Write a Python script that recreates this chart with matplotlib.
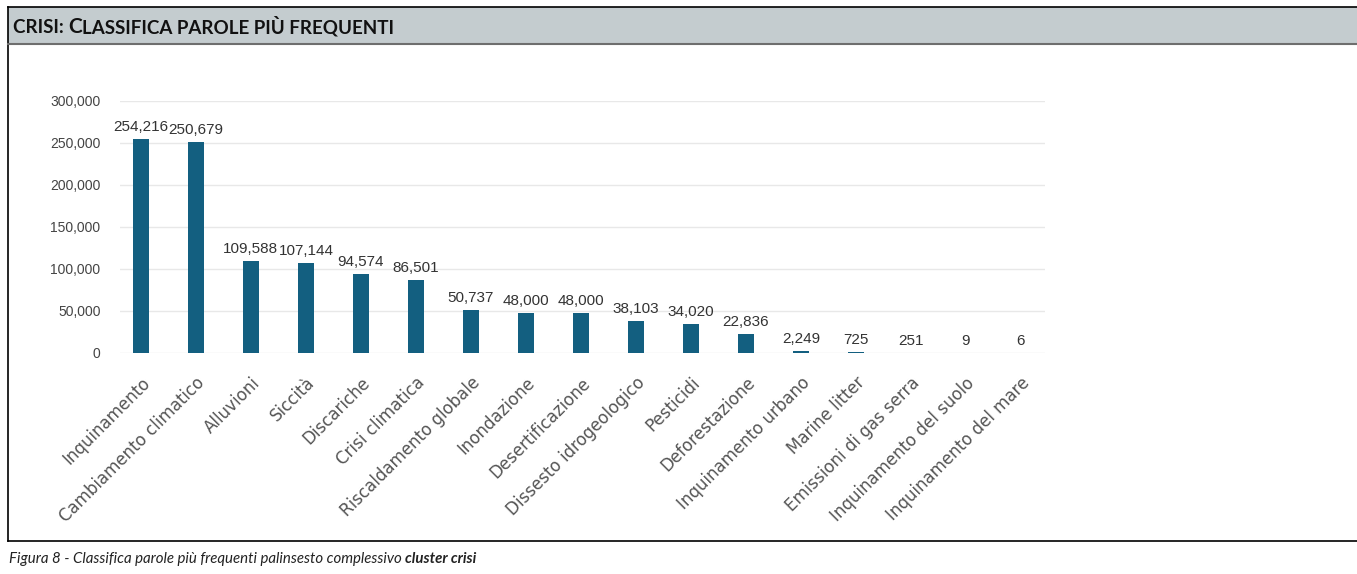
import matplotlib.pyplot as plt
from matplotlib.patches import Rectangle

categories = ["Inquinamento", "Cambiamento climatico", "Alluvioni", "Siccità", "Discariche",
              "Crisi climatica", "Riscaldamento globale", "Inondazione", "Desertificazione",
              "Dissesto idrogeologico", "Pesticidi", "Deforestazione", "Inquinamento urbano",
              "Marine litter", "Emissioni di gas serra", "Inquinamento del suolo",
              "Inquinamento del mare"]
values = [254216, 250679, 109588, 107144, 94574, 86501, 50737, 48000, 48000,
          38103, 34020, 22836, 2249, 725, 251, 9, 6]
yticks = [0, 50000, 100000, 150000, 200000, 250000, 300000]

W, H = 1357, 574
fig = plt.figure(figsize=(W / 100, H / 100), dpi=100)

def fx(px):
    return px / W

def fy(py):
    return 1 - py / H

# frame and header band
fig.patches.append(Rectangle((fx(8), fy(44)), fx(1357) - fx(8), fy(7) - fy(44),
                             transform=fig.transFigure, facecolor="#c4cccf",
                             edgecolor="none", zorder=0))
fig.add_artist(plt.Line2D([fx(8), fx(8)], [fy(7), fy(541)], color="black", lw=1.2))
fig.add_artist(plt.Line2D([fx(8), 1], [fy(7), fy(7)], color="black", lw=1.2))
fig.add_artist(plt.Line2D([fx(8), 1], [fy(541), fy(541)], color="black", lw=1.2))
fig.add_artist(plt.Line2D([fx(8), 1], [fy(44), fy(44)], color="#6e6e6e", lw=1.5))

# small caps title
big, small = 15, 13.5
ty = fy(33)
t1 = fig.text(fx(13), ty, "CRISI: ", fontsize=small, fontweight="bold",
              family="Lato", color="#111111")
t2 = fig.text(0, 0, "C", fontsize=big, fontweight="bold", family="Lato", color="#111111")
t3 = fig.text(0, 0, "LASSIFICA PAROLE PIÙ FREQUENTI", fontsize=small, fontweight="bold",
              family="Lato", color="#111111")
fig.canvas.draw()
r = fig.canvas.get_renderer()
bb = t1.get_window_extent(r)
t2.set_position((bb.x1 / W, ty))
fig.canvas.draw()
bb = t2.get_window_extent(r)
t3.set_position((bb.x1 / W, ty))

# caption
cap = fig.text(fx(9), fy(563), "Figura 8 - Classifica parole più frequenti palinsesto complessivo ",
               fontsize=10.8, style="italic", family="Lato", color="#222222")
fig.canvas.draw()
bb = cap.get_window_extent(r)
fig.text(bb.x1 / W, fy(563), "cluster crisi", fontsize=10.8, style="italic",
         fontweight="bold", family="Lato", color="#222222")

# chart
ax = fig.add_axes([fx(120), fy(353), fx(1045) - fx(120), fy(101) - fy(353)])
x = list(range(len(categories)))
ax.bar(x, values, width=0.28, color="#135f80", zorder=2)
ax.set_xlim(-0.38, 16.44)
ax.set_ylim(0, 300000)
ax.set_yticks(yticks)
ax.set_yticklabels([f"{v:,}" for v in yticks], family="Liberation Sans",
                   fontsize=10, color="#444444")
ax.tick_params(axis="y", length=0, pad=14)
ax.tick_params(axis="x", length=0, pad=15)
ax.set_xticks(x)
ax.set_xticklabels(categories, rotation=45, ha="right", rotation_mode="anchor",
                   family="DejaVu Sans", fontsize=12, color="#555555")
ax.grid(axis="y", color="#e8e8e8", lw=1, zorder=0)
for s in ax.spines.values():
    s.set_visible(False)
for xi, v in zip(x, values):
    ax.text(xi, v + 6000, f"{v:,}", ha="center", va="bottom", fontsize=11,
            family="Liberation Sans", color="#333333")

fig.savefig("out.png", dpi=100)
